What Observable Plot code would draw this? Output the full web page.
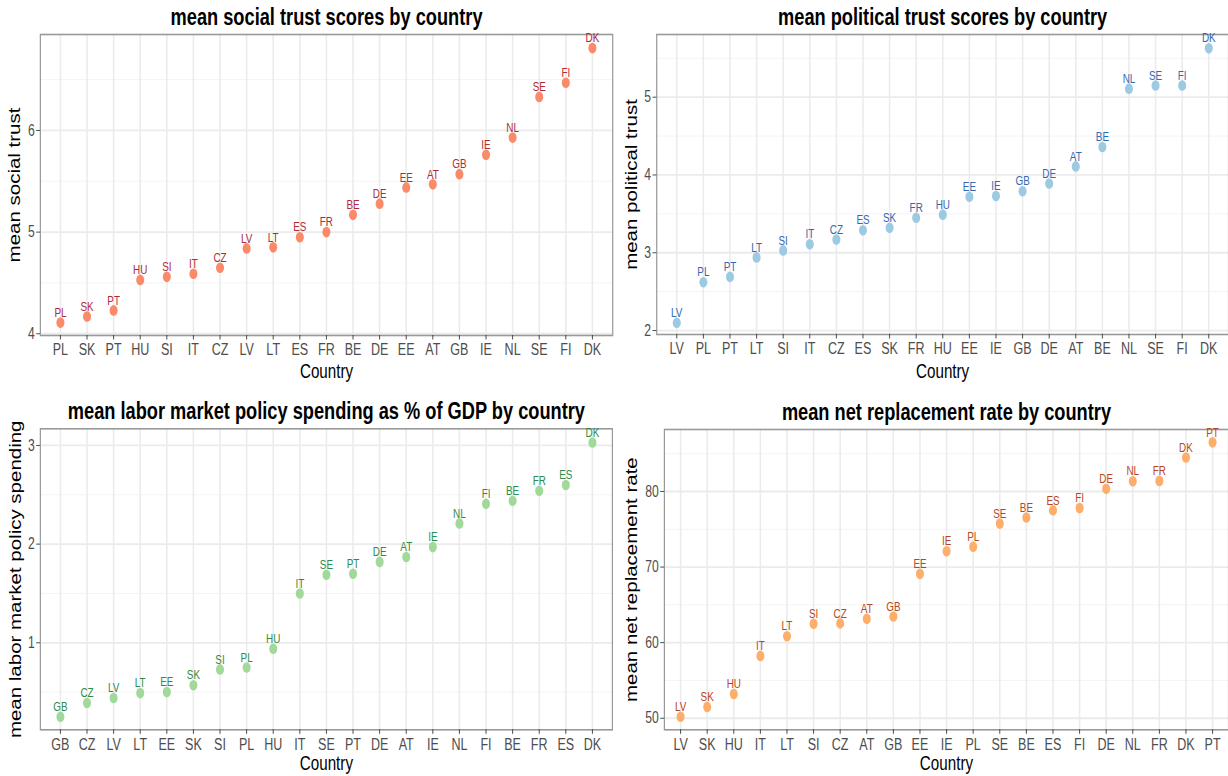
<!DOCTYPE html>
<html>
<head>
<meta charset="utf-8">
<script src="https://cdn.jsdelivr.net/npm/d3@7"></script>
<script src="https://cdn.jsdelivr.net/npm/@observablehq/plot@0.6"></script>
<style>
  html, body { margin: 0; padding: 0; background: #fff; overflow: hidden; width: 1228px; height: 776px; }
  #wrap { position: absolute; left: 0; top: 0; width: 1616px; height: 776px; transform: scaleX(0.76); transform-origin: 0 0; }
  .panel { position: absolute; }
  .panel svg { overflow: visible; }
</style>
</head>
<body>
<div id="wrap"></div>
<script>
// ---- data ----
const socialCountries = ["PL","SK","PT","HU","SI","IT","CZ","LV","LT","ES","FR","BE","DE","EE","AT","GB","IE","NL","SE","FI","DK"];
const socialTrust = [4.11,4.17,4.23,4.53,4.56,4.59,4.65,4.84,4.85,4.95,5.00,5.17,5.28,5.44,5.47,5.57,5.76,5.93,6.33,6.47,6.81];

const politicalCountries = ["LV","PL","PT","LT","SI","IT","CZ","ES","SK","FR","HU","EE","IE","GB","DE","AT","BE","NL","SE","FI","DK"];
const politicalTrust = [2.10,2.62,2.69,2.94,3.03,3.11,3.17,3.29,3.32,3.45,3.49,3.72,3.73,3.79,3.89,4.11,4.36,5.11,5.15,5.15,5.63];

const lmpCountries = ["GB","CZ","LV","LT","EE","SK","SI","PL","HU","IT","SE","PT","DE","AT","IE","NL","FI","BE","FR","ES","DK"];
const lmpSpending = [0.25,0.39,0.44,0.49,0.50,0.57,0.73,0.75,0.94,1.50,1.69,1.70,1.82,1.87,1.97,2.21,2.41,2.44,2.54,2.60,3.03];

const nrrCountries = ["LV","SK","HU","IT","LT","SI","CZ","AT","GB","EE","IE","PL","SE","BE","ES","FI","DE","NL","FR","DK","PT"];
const nrrRate = [50.2,51.5,53.2,58.25,60.85,62.5,62.55,63.15,63.45,69.1,72.1,72.7,75.75,76.55,77.5,77.8,80.35,81.35,81.4,84.5,86.5];

const titles = [
  "mean social trust scores by country",
  "mean political trust scores by country",
  "mean labor market policy spending as % of GDP by country",
  "mean net replacement rate by country"
];
const yLabels = ["mean social trust","mean political trust","mean labor market policy spending","mean net replacement rate"];
const xLabel = "Country";

const yTicks = [[4,5,6],[2,3,4,5],[1,2,3],[50,60,70,80]];
const yMinor = [[4.5,5.5,6.5],[2.5,3.5,4.5,5.5],[0.5,1.5,2.5],[55,65,75,85]];
const yDomains = [[3.983,6.944],[1.949,5.806],[0.118,3.169],[48.47,88.2]];

const dotColors = ["#FB8A6A","#9DCAE2","#A1D99B","#FDAE6B"];
const textColors = ["#B02A38","#3468B0","#2E8B4A","#B8461B"];

const FONT = "'Liberation Sans', Arial, Helvetica, sans-serif";

function panel(i, countries, values, box) {
  const data = countries.map((c, k) => ({c, v: values[k]}));
  const chart = Plot.plot({
    width: box.w, height: box.h,
    marginLeft: box.ml, marginRight: box.mr, marginTop: box.mt, marginBottom: box.mb,
    style: {fontFamily: FONT, background: "transparent", overflow: "visible"},
    x: {type: "point", domain: countries, padding: 0.6},
    y: {domain: yDomains[i]},
    marks: [
      Plot.ruleY(yMinor[i], {stroke: "#f2f2f2", strokeWidth: 1}),
      Plot.ruleY(yTicks[i], {stroke: "#ebebeb", strokeWidth: 1.8}),
      Plot.ruleX(countries, {stroke: "#ebebeb", strokeWidth: 2}),
      Plot.frame({stroke: "#999999", strokeWidth: 1.6}),
      Plot.axisX({tickSize: 4.5, tickPadding: 3.5, fontSize: 16.5, stroke: "#333", fill: "#4d4d4d", label: null}),
      Plot.axisY({ticks: yTicks[i], tickFormat: d => String(d), tickSize: 5, tickPadding: 2.5, fontSize: 16, stroke: "#333", fill: "#4d4d4d", label: null}),
      Plot.dot(data, {x: "c", y: "v", r: 5.3, fill: dotColors[i], stroke: null}),
      Plot.text(data, {x: "c", y: "v", text: "c", dy: -10, fill: textColors[i], fontSize: 13}),
      Plot.text([titles[i]], {frameAnchor: "top", dy: box.titleDy, fontSize: 24, fontWeight: "bold", fill: "#000"}),
      Plot.text([xLabel], {frameAnchor: "bottom", dy: box.xDy, lineAnchor: "top", textAnchor: "middle", fontSize: 20, fill: "#000"}),
      Plot.text([yLabels[i]], {frameAnchor: "left", dx: box.yDx, rotate: -90, textAnchor: "middle", lineAnchor: "middle", fontSize: 20.5, fill: "#000"})
    ]
  });
  const div = document.createElement("div");
  div.className = "panel";
  div.style.left = box.x + "px";
  div.style.top = box.y + "px";
  div.appendChild(chart);
  document.getElementById("wrap").appendChild(div);
}

panel(0, socialCountries, socialTrust, {x: 0, y: 0, w: 808, h: 388, ml: 52.6, mr: 2.3, mt: 34, mb: 53, titleDy: -27, xDy: 28, yDx: -33});
panel(1, politicalCountries, politicalTrust, {x: 808, y: 0, w: 808, h: 388, ml: 55.6, mr: 0, mt: 34, mb: 54, titleDy: -27, xDy: 29, yDx: -33});
panel(2, lmpCountries, lmpSpending, {x: 0, y: 388, w: 808, h: 388, ml: 52.6, mr: 2.7, mt: 40.3, mb: 46.7, titleDy: -26.5, xDy: 26, yDx: -32.5});
panel(3, nrrCountries, nrrRate, {x: 808, y: 388, w: 808, h: 388, ml: 65.7, mr: 0, mt: 41, mb: 46.7, titleDy: -27, xDy: 26, yDx: -43});
</script>
</body>
</html>
